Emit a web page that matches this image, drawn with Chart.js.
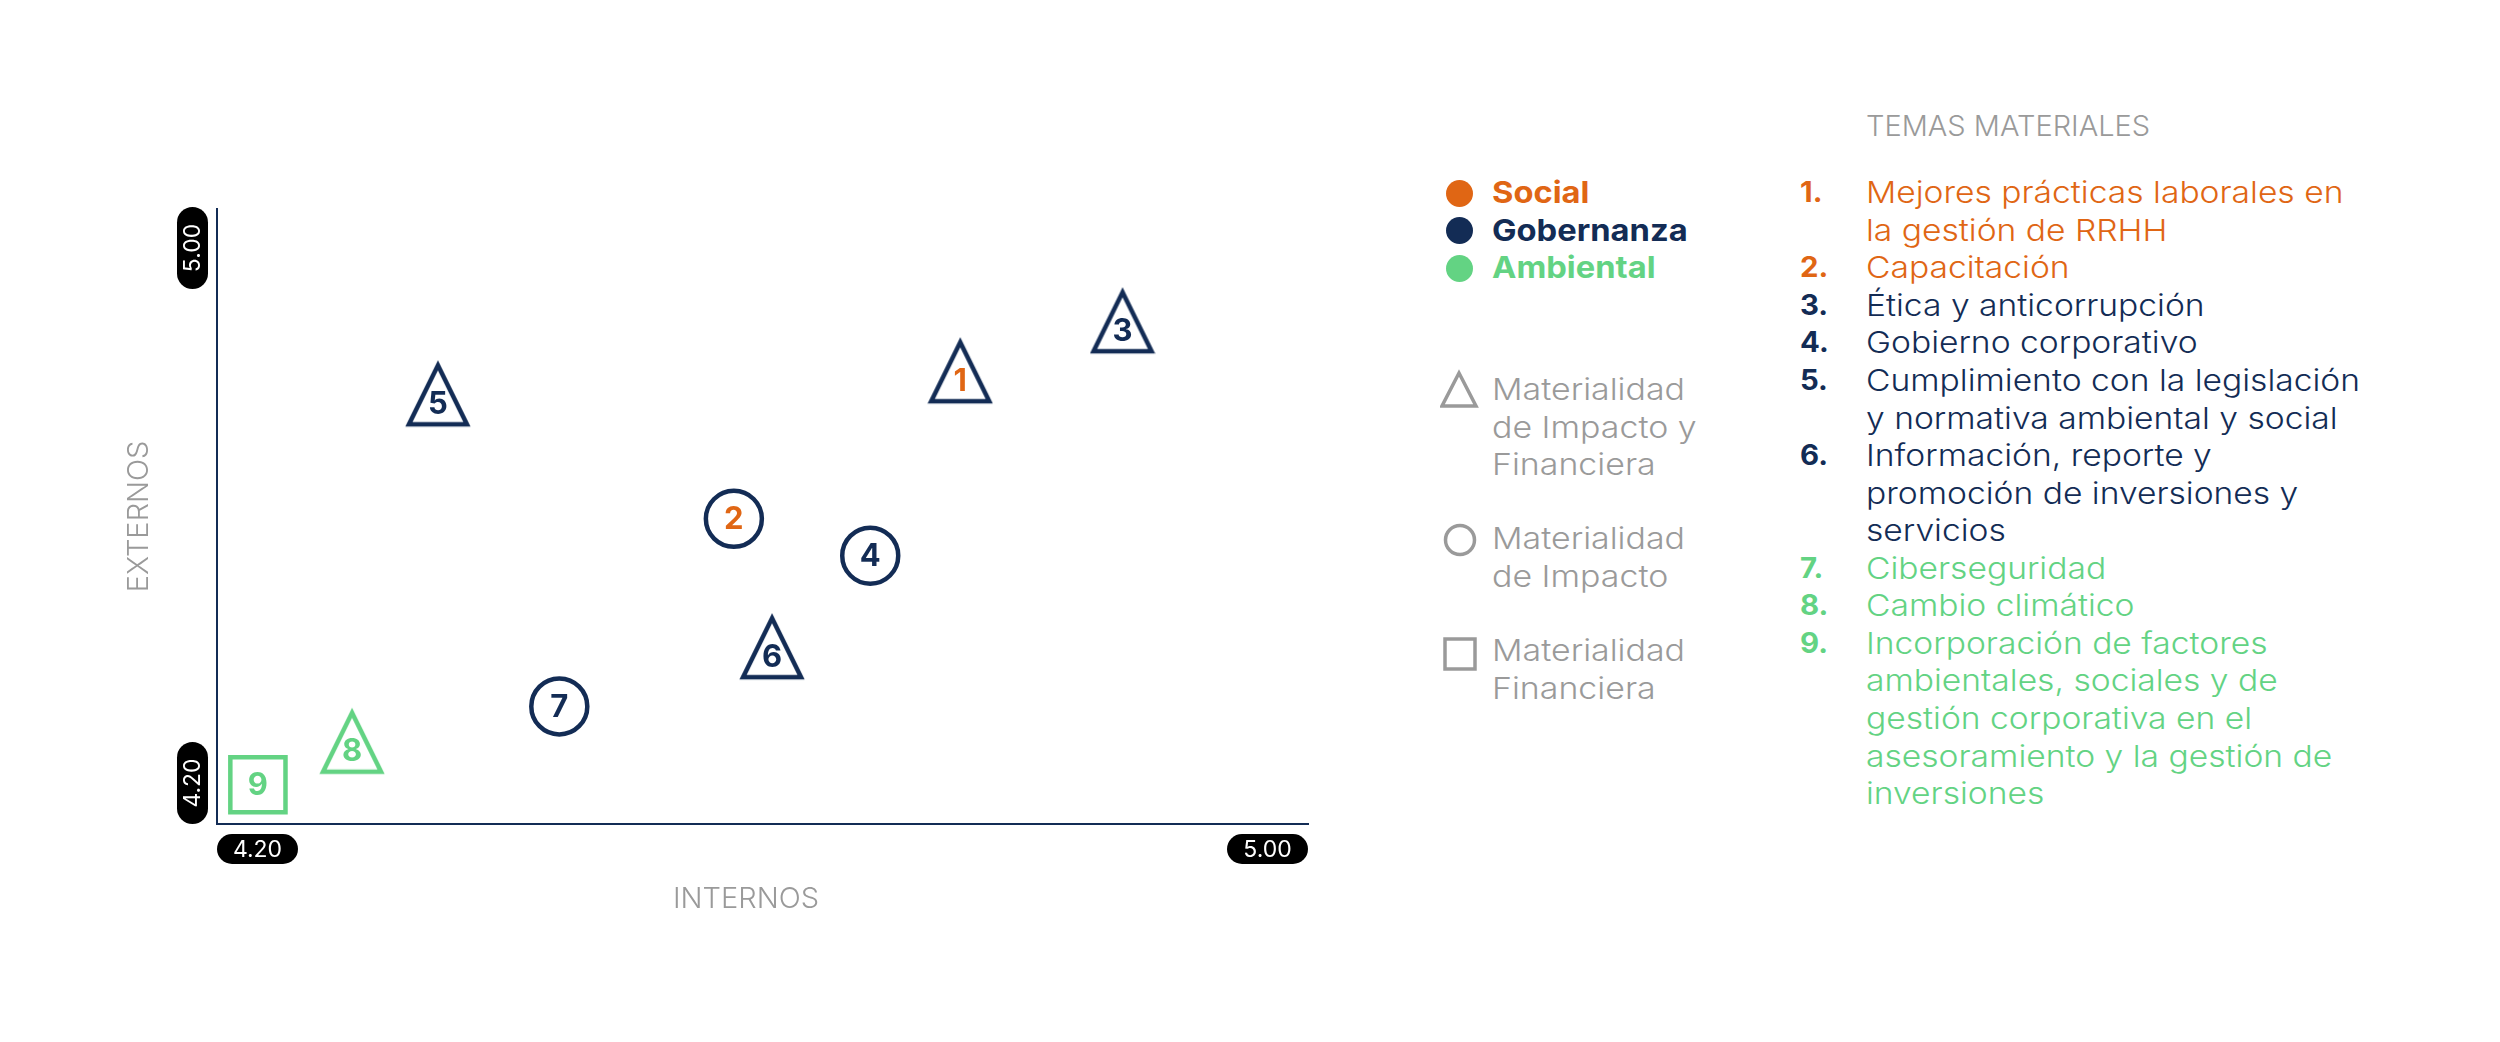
<!DOCTYPE html>
<html>
<head>
<meta charset="utf-8">
<script src="https://cdn.jsdelivr.net/npm/chart.js@4.4.1/dist/chart.umd.min.js"></script>
<style>
  body { margin: 0; background: #fff; width: 2500px; height: 1042px; overflow: hidden; font-family: Inter, "Noto Sans", sans-serif; }
  #wrap { position: absolute; left: 0; top: 0; width: 1400px; height: 1042px; }
  .t { position: absolute; white-space: nowrap; line-height: 37.5px; transform-origin: left center; }
  .grp { font-weight: 700; font-size: 30px; transform: scaleX(1.09); }
  .dot { position: absolute; width: 27px; height: 27px; border-radius: 50%; }
  .mat { color: #9a9a9a; font-size: 30px; font-weight: 300; transform: scaleX(1.13); }
  .num { font-weight: 700; font-size: 28px; transform: scaleX(1.05); }
  .item { font-size: 30px; font-weight: 300; transform: scaleX(1.12); }
</style>
</head>
<body>
<div id="wrap"><canvas id="grafico" width="1400" height="1042"></canvas></div>
<div id="leyenda"></div>
<script>
// datos
var temas = ['1', '2', '3', '4', '5', '6', '7', '8', '9'];
var internos = [4.745, 4.579, 4.864, 4.679, 4.362, 4.607, 4.451, 4.299, 4.230];
var externos = [4.789, 4.597, 4.854, 4.549, 4.759, 4.430, 4.353, 4.307, 4.251];
var materialidad = ['ImpactoFin', 'Impacto', 'ImpactoFin', 'Impacto', 'ImpactoFin', 'ImpactoFin', 'Impacto', 'ImpactoFin', 'Financiera'];
var grupos = ['Social', 'Social', 'Gobernanza', 'Gobernanza', 'Gobernanza', 'Gobernanza', 'Ambiental', 'Ambiental', 'Ambiental'];
var rango = [4.20, 5.00];
var etiquetasEje = ['4.20', '5.00'];
var nombres = [
    ['Mejores prácticas laborales en', 'la gestión de RRHH'],
    ['Capacitación'],
    ['Ética y anticorrupción'],
    ['Gobierno corporativo'],
    ['Cumplimiento con la legislación', 'y normativa ambiental y social'],
    ['Información, reporte y', 'promoción de inversiones y', 'servicios'],
    ['Ciberseguridad'],
    ['Cambio climático'],
    ['Incorporación de factores', 'ambientales, sociales y de', 'gestión corporativa en el', 'asesoramiento y la gestión de', 'inversiones']
];

var colores = { naranja: '#e06614', azul: '#132c55', verde: '#63d383', gris: '#9a9a9a' };
var colorGrupo = { Social: colores.naranja, Gobernanza: colores.azul, Ambiental: colores.verde };
// el contorno del simbolo y el numero no siempre siguen el grupo
var contorno = [colores.azul, colores.azul, colores.azul, colores.azul, colores.azul, colores.azul, colores.azul, colores.verde, colores.verde];
var colorNumero = [colores.naranja, colores.naranja, colores.azul, colores.azul, colores.azul, colores.azul, colores.azul, colores.verde, colores.verde];

function triangulo(color) {
    var c = document.createElement('canvas');
    c.width = 66; c.height = 72;
    var g = c.getContext('2d');
    g.strokeStyle = color;
    g.lineWidth = 4.5;
    g.lineJoin = 'miter';
    g.beginPath();
    g.moveTo(33, 7);
    g.lineTo(62, 66);
    g.lineTo(4, 66);
    g.closePath();
    g.stroke();
    return c;
}
var triAzul = triangulo(colores.azul);
var triVerde = triangulo(colores.verde);

var estilos = materialidad.map(function (m, i) {
    if (m == 'ImpactoFin') return contorno[i] == colores.verde ? triVerde : triAzul;
    if (m == 'Impacto') return 'circle';
    return 'rect';
});
var radios = materialidad.map(function (m) {
    if (m == 'Impacto') return 28;
    if (m == 'Financiera') return 39;
    return 30;
});

function pastilla(g, x, y, w, h) {
    var r = Math.min(w, h) / 2;
    g.beginPath();
    g.moveTo(x + r, y);
    g.arcTo(x + w, y, x + w, y + h, r);
    g.arcTo(x + w, y + h, x, y + h, r);
    g.arcTo(x, y + h, x, y, r);
    g.arcTo(x, y, x + w, y, r);
    g.closePath();
    g.fillStyle = '#000';
    g.fill();
}

var ejesPlugin = {
    id: 'ejes',
    afterDraw: function (chart) {
        var g = chart.ctx;
        var xs = chart.scales.x, ys = chart.scales.y;
        var area = chart.chartArea;
        g.save();
        g.font = '400 23px Inter';
        g.textAlign = 'center';
        g.textBaseline = 'middle';
        // eje x
        var x0 = xs.getPixelForValue(rango[0]), x1 = xs.getPixelForValue(rango[1]);
        pastilla(g, x0, area.bottom + 10, 81, 30);
        pastilla(g, x1 - 81, area.bottom + 10, 81, 30);
        g.fillStyle = '#fff';
        g.fillText(etiquetasEje[0], x0 + 40.5, area.bottom + 26);
        g.fillText(etiquetasEje[1], x1 - 40.5, area.bottom + 26);
        // eje y
        var y0 = ys.getPixelForValue(rango[0]), y1 = ys.getPixelForValue(rango[1]);
        pastilla(g, area.left - 40, y1 - 2, 31, 82);
        pastilla(g, area.left - 40, y0 - 82, 31, 82);
        g.fillStyle = '#fff';
        g.translate(area.left - 23.5, y1 + 39);
        g.rotate(-Math.PI / 2);
        g.fillText(etiquetasEje[1], 0, 0);
        g.rotate(Math.PI / 2);
        g.translate(0, (y0 - 41) - (y1 + 39));
        g.rotate(-Math.PI / 2);
        g.fillText(etiquetasEje[0], 0, 0);
        g.restore();

        // titulos
        g.save();
        g.font = '300 29px Inter';
        g.fillStyle = colores.gris;
        g.textAlign = 'center';
        g.textBaseline = 'middle';
        g.fillText('INTERNOS', area.left + 529, area.bottom + 75);
        g.translate(area.left - 78, (area.top + area.bottom) / 2);
        g.rotate(-Math.PI / 2);
        g.fillText('EXTERNOS', 0, 0);
        g.restore();
    }
};

var numerosPlugin = {
    id: 'numeros',
    afterDatasetsDraw: function (chart) {
        var g = chart.ctx;
        var meta = chart.getDatasetMeta(0);
        g.save();
        g.font = '700 31px Inter';
        g.textAlign = 'center';
        g.textBaseline = 'middle';
        meta.data.forEach(function (p, i) {
            var dy = materialidad[i] == 'ImpactoFin' ? 10 : 1;
            g.fillStyle = colorNumero[i];
            g.fillText(temas[i], p.x, p.y + dy);
        });
        g.restore();
    }
};

var ctx = document.getElementById('grafico');
var grafico = new Chart(ctx, {
    type: 'scatter',
    data: {
        datasets: [{
            data: internos.map(function (x, i) { return { x: x, y: externos[i] }; }),
            pointStyle: estilos,
            radius: radios,
            borderColor: contorno,
            backgroundColor: 'rgba(255,255,255,0)',
            borderWidth: 4.5,
            clip: false
        }]
    },
    options: {
        responsive: false,
        animation: false,
        events: [],
        layout: { padding: { left: 217, top: 209, right: 92, bottom: 218 } },
        plugins: { legend: { display: false }, tooltip: { enabled: false } },
        scales: {
            x: {
                type: 'linear', min: rango[0], max: rango[1],
                ticks: { display: false },
                grid: { display: false, drawTicks: false },
                border: { color: colores.azul, width: 2 },
                afterFit: function (s) { s.height = 0; }
            },
            y: {
                type: 'linear', min: rango[0], max: rango[1],
                ticks: { display: false },
                grid: { display: false, drawTicks: false },
                border: { color: colores.azul, width: 2 },
                afterFit: function (s) { s.width = 0; }
            }
        }
    },
    plugins: [ejesPlugin, numerosPlugin]
});

// leyenda a la derecha
var ley = document.getElementById('leyenda');
var html = '';
var nombresGrupo = ['Social', 'Gobernanza', 'Ambiental'];
nombresGrupo.forEach(function (n, i) {
    var cy = 193 + i * 37.5;
    html += '<div class="dot" style="left:1446px;top:' + (cy - 13.5) + 'px;background:' + colorGrupo[n] + '"></div>';
    html += '<div class="t grp" style="left:1492px;top:' + (cy - 18.75) + 'px;color:' + colorGrupo[n] + '">' + n + '</div>';
});
var gris = colores.gris;
html += '<svg style="position:absolute;left:1440px;top:368px" width="40" height="42"><path d="M19 5 L36 38 L2 38 Z" fill="none" stroke="' + gris + '" stroke-width="3.5"/></svg>';
html += '<svg style="position:absolute;left:1440px;top:520px" width="40" height="40"><circle cx="20" cy="20" r="14.5" fill="none" stroke="' + gris + '" stroke-width="3.5"/></svg>';
html += '<svg style="position:absolute;left:1440px;top:634px" width="40" height="40"><rect x="5" y="5" width="30" height="30" fill="none" stroke="' + gris + '" stroke-width="3.5"/></svg>';
var mats = [[390, ['Materialidad', 'de Impacto y', 'Financiera']], [539, ['Materialidad', 'de Impacto']], [651, ['Materialidad', 'Financiera']]];
mats.forEach(function (m) {
    m[1].forEach(function (l, j) {
        html += '<div class="t mat" style="left:1492px;top:' + (m[0] + j * 37.5 - 18.75) + 'px">' + l + '</div>';
    });
});
html += '<div class="t" style="left:1866px;top:107px;font-size:29px;font-weight:300;color:' + gris + '">TEMAS MATERIALES</div>';
var linea = 0;
nombres.forEach(function (lineas, i) {
    var col = colorGrupo[grupos[i]];
    var cy = 193 + linea * 37.55;
    html += '<div class="t num" style="left:1800px;top:' + (cy - 18.75) + 'px;color:' + col + '">' + temas[i] + '.</div>';
    lineas.forEach(function (l, j) {
        html += '<div class="t item" style="left:1866px;top:' + (cy + j * 37.55 - 18.75) + 'px;color:' + col + '">' + l + '</div>';
    });
    linea += lineas.length;
});
ley.innerHTML = html;
</script>
</body>
</html>
